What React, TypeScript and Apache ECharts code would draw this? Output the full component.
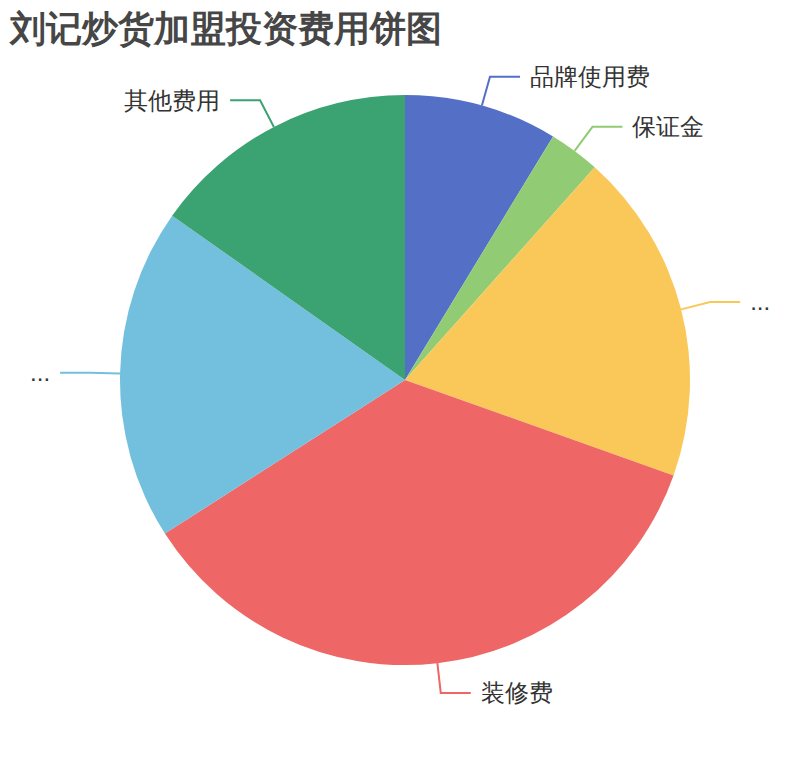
import React, { useEffect, useRef } from 'react';
import * as echarts from 'echarts';

const title = '刘记炒货加盟投资费用饼图';
const categories = ['品牌使用费', '保证金', '设备及原料费', '装修费', '店铺租金', '其他费用'];
const values = [6, 2, 13, 24.5, 13, 10.5];
// labels squeezed down to an ellipsis in the reference
const truncated = ['设备及原料费', '店铺租金'];
const palette = ['#5470c6', '#91cc75', '#fac858', '#ee6666', '#73c0de', '#3ba272'];

const App: React.FC = () => {
  const ref = useRef<HTMLDivElement>(null);

  useEffect(() => {
    if (!ref.current) return;
    const chart = echarts.init(ref.current, null, { renderer: 'svg' });
    chart.setOption({
      animation: false,
      color: palette,
      title: {
        text: title,
        left: 5,
        top: 5,
        textStyle: { fontSize: 36, fontWeight: 'bold', color: '#464646' }
      },
      series: [
        {
          type: 'pie',
          radius: '75%',
          center: ['50%', '50%'],
          label: { fontSize: 24, color: '#333', distanceToLabelLine: 10 },
          labelLine: { length: 30, length2: 30, lineStyle: { width: 2 } },
          itemStyle: { borderWidth: 0 },
          data: categories.map((name, i) => ({
            name,
            value: values[i],
            label: truncated.includes(name) ? { width: 28, overflow: 'truncate' } : undefined
          }))
        }
      ]
    });
    return () => {
      chart.dispose();
    };
  }, []);

  return (
    <div
      ref={ref}
      style={{ position: 'absolute', left: 0, top: 0, width: 810, height: 760 }}
    />
  );
};

export default App;
